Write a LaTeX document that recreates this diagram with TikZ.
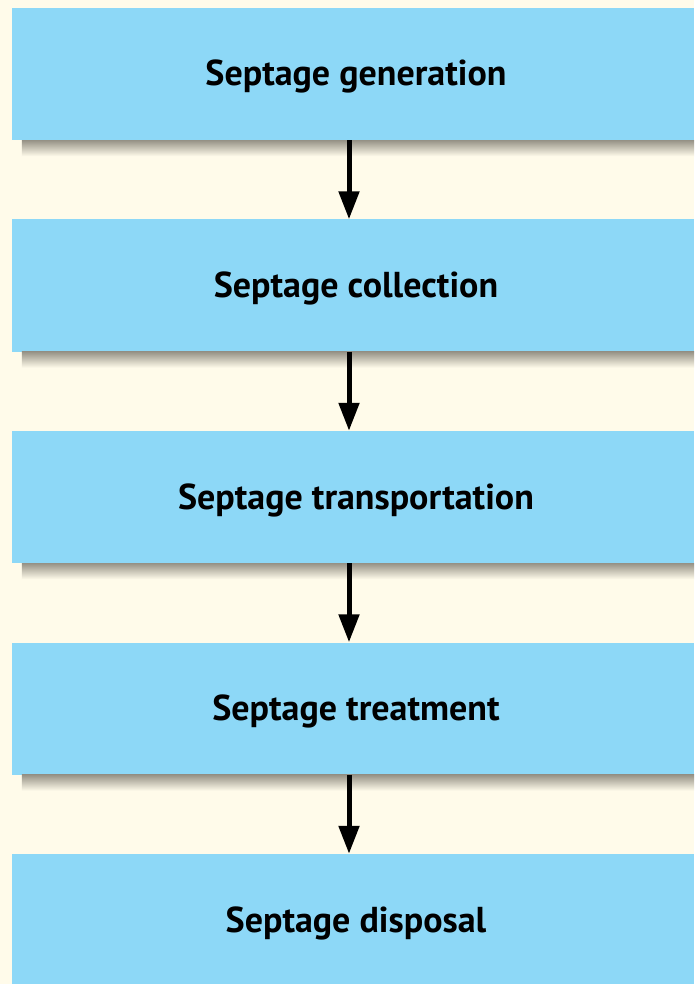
\documentclass[tikz,border=0pt]{standalone}
\usepackage{fontspec}
\setsansfont{PT Sans}
\usetikzlibrary{arrows.meta,calc,positioning}
\definecolor{paper}{RGB}{255,251,234}
\definecolor{boxblue}{RGB}{141,216,247}
\definecolor{shadegray}{RGB}{150,146,134}

\begin{document}
\begin{tikzpicture}[x=1pt,y=1pt,
  stage/.style={fill=boxblue, minimum width=682pt, minimum height=132pt, inner sep=0pt,
    text height=32pt, text depth=8pt,
    font=\sffamily\bfseries\fontsize{36}{42}\selectfont},
  flow/.style={-{Triangle[length=28pt,width=20pt]}, line width=5pt}]

% Background
\useasboundingbox (0,0) rectangle (694,-984);
\fill[paper] (0,0) rectangle (694,-984);

% Stages
\foreach \i/\txt in {1/generation,2/collection,3/transportation,4/treatment,5/disposal} {
  \node[stage] (s\i) at (353,{-74-211.5*(\i-1)}) {\hspace{6pt}Septage \txt};
}

% Shadows under the boxes
\foreach \i in {1,...,4} {
  \shade[top color=shadegray, bottom color=paper]
    ($(s\i.south west)+(10,0)$) rectangle ($(s\i.south east)+(0,-16)$);
}

% Arrows
\foreach \i/\j in {1/2,2/3,3/4,4/5} {
  \draw[flow] ([xshift=-4pt]s\i.south) -- ([xshift=-4pt]s\j.north);
}

\end{tikzpicture}
\end{document}
